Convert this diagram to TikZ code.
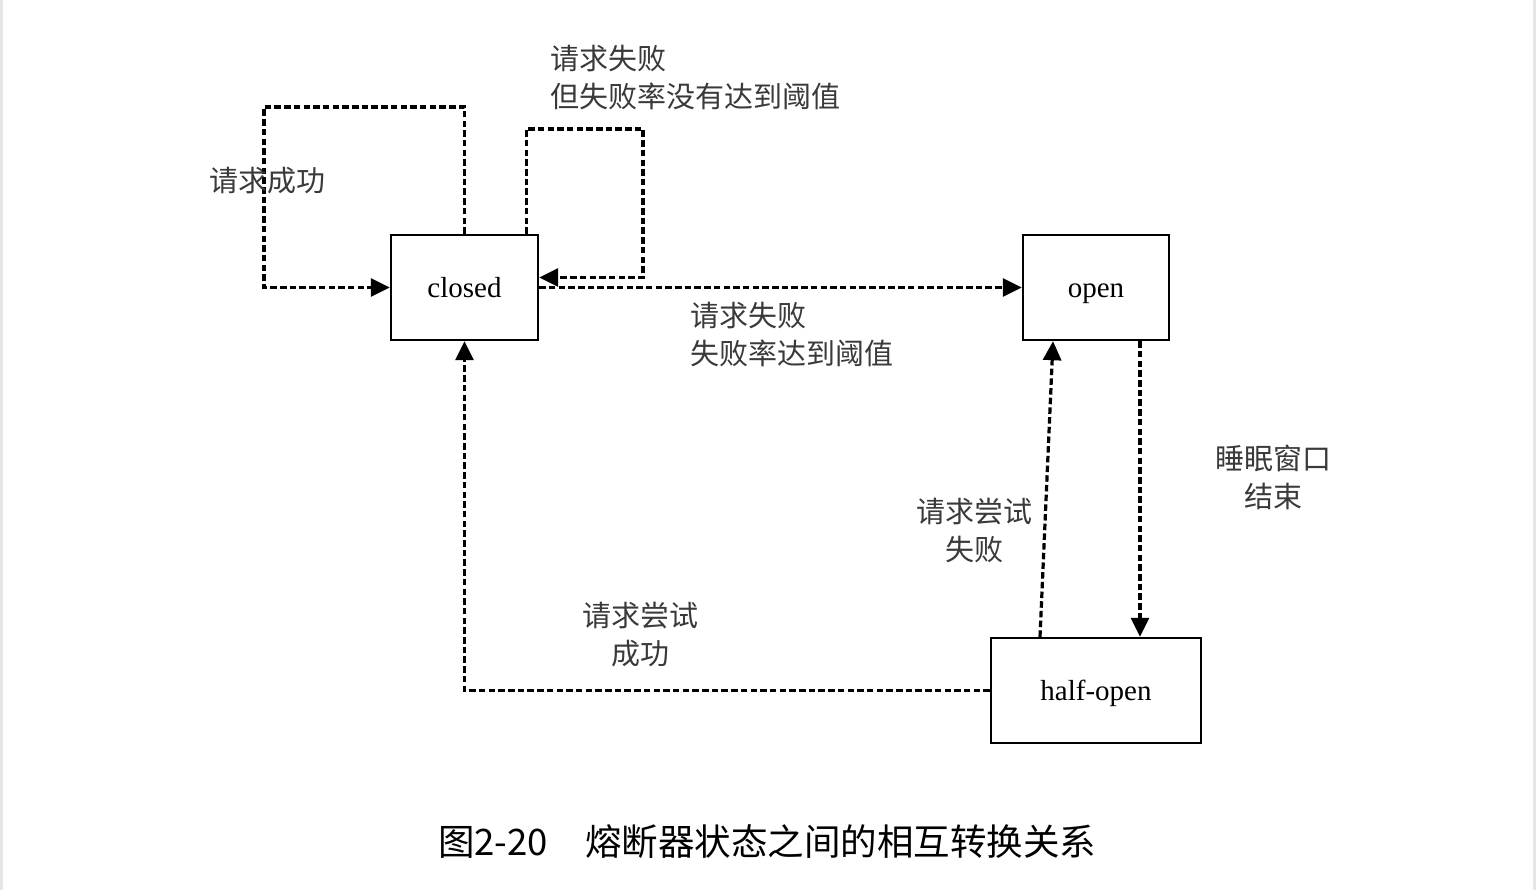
\documentclass[tikz,border=0pt]{standalone}
\usepackage{fontspec}
\setmainfont{Liberation Serif}
\newfontfamily\cjk{Noto Sans CJK SC}
\usetikzlibrary{arrows.meta,calc}
\definecolor{lbl}{HTML}{3A3A3A}
\begin{document}
\begin{tikzpicture}[x=1pt,y=-1pt,
  state/.style={draw,line width=2.4pt,minimum height=105pt,inner sep=0pt,text height=23pt,text depth=3pt,font=\fontsize{29}{34}\selectfont},
  dl/.style={line width=3.2pt,dash pattern=on 6.5pt off 3.2pt,-{Triangle[length=19pt,width=18pt]}},
  lab/.style={text=lbl,font=\cjk\fontsize{29}{38}\selectfont,inner sep=0pt}]
\useasboundingbox (0,0) rectangle (1536,890);
\fill[white] (0,0) rectangle (1536,890);
\fill[black!10] (0,0) rectangle (3,890);
\fill[black!10] (1533,0) rectangle (1536,890);
\node[state,minimum width=147pt] (closed) at (464.5,287.5) {closed};
\node[state,minimum width=146pt] (open) at (1096,287.5) {open};
\node[state,minimum width=210pt] (half) at (1096,690.5) {half-open};
\coordinate (c1) at (264,107);
\coordinate (c2) at (643,129);
\draw[dl] (closed.north) |- (c1) |- (closed.west);
\draw[dl] ([xshift=-13pt]closed.north east) |- (c2) |- ([yshift=10pt]closed.east);
\draw[dl] (closed.east) -- (open.west);
\draw[dl] ([xshift=44pt]open.south) -- ([xshift=44pt]half.north);
\draw[dl] ([xshift=-56pt]half.north) -- ([xshift=-43pt]open.south);
\draw[dl] (half.west) -| (closed.south);
\node[lab,anchor=west] (l1) at (209,181) {请求成功};
\node[lab,anchor=west,align=left] (l2) at (550,77) {请求失败\\但失败率没有达到阈值};
\node[lab,anchor=west,align=left] (l3) at (690,334) {请求失败\\失败率达到阈值};
\node[lab,align=center] (l4) at (1273,477) {睡眠窗口\\结束};
\node[lab,align=center] (l5) at (974,530) {请求尝试\\失败};
\node[lab,align=center] (l6) at (640,635) {请求尝试\\成功};
\node[font=\cjk\fontsize{36.5}{40}\selectfont,inner sep=0pt,anchor=west] (cap) at (438,842) {\makebox[147pt][l]{图2-20}熔断器状态之间的相互转换关系};
\end{tikzpicture}
\end{document}
